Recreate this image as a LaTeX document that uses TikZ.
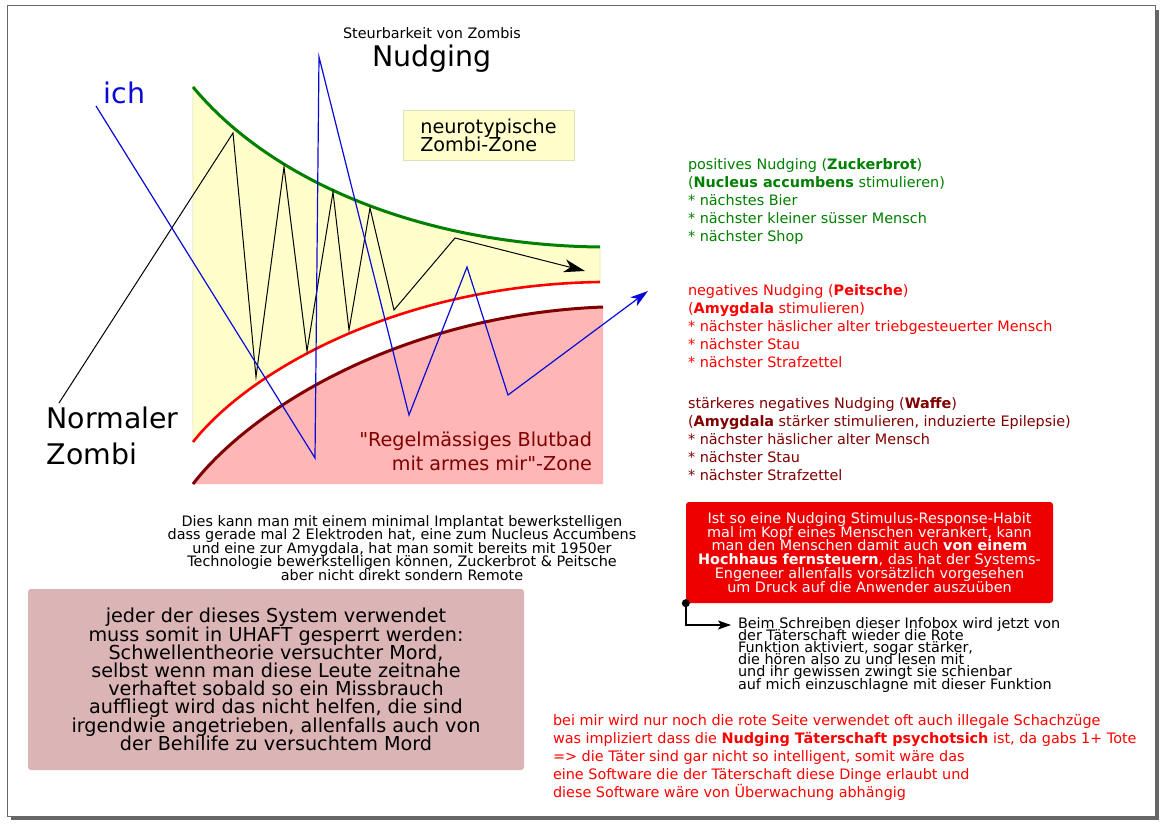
\documentclass[tikz,border=0pt]{standalone}
\usepackage{fontspec}
\setmainfont{DejaVu Sans}[Ligatures=TeXOff]
\usetikzlibrary{arrows.meta}
\newcommand{\fsz}[2]{\fontsize{#1}{#2}\selectfont\lineskiplimit=-100pt\lineskip=0pt}
\definecolor{zgreen}{RGB}{0,128,0}
\definecolor{zred}{RGB}{238,0,0}
\definecolor{zdark}{RGB}{128,0,0}
\definecolor{zyellow}{RGB}{255,255,204}
\definecolor{zyedge}{RGB}{225,225,185}
\definecolor{zpink}{RGB}{255,182,182}
\definecolor{zbox}{RGB}{219,181,181}
\definecolor{zblue}{RGB}{10,10,215}
\definecolor{zframe}{RGB}{102,102,102}
\begin{document}
\begin{tikzpicture}[x=1pt,y=-1pt,
  txt/.style={inner sep=0pt, outer sep=0pt},
  small/.style={txt, font=\fsz{14.4}{18}},
  mid/.style={txt, font=\fsz{19.2}{18.3}},
  big/.style={txt, font=\fsz{28.4}{36}},
  zigzag/.style={line width=1pt, line join=miter},
  curve/.style={line width=3pt},
  infobox/.style={rounded corners=3pt, inner sep=0pt, align=center}]
\useasboundingbox (0,0) rectangle (1163,824);
\fill[white] (0,0) rectangle (1163,824);
% frame with shadow
\fill[zframe] (11,816) rectangle (1159,820);
\fill[zframe] (1155,10) rectangle (1159,820);
\draw[zframe, line width=1pt] (7,6) rectangle (1155,816);

% zones
\fill[zyellow, draw=zyedge, line width=0.6pt] (193,87) .. controls (270,180) and (420,245) .. (600,247) -- (600,282) .. controls (400,285) and (250,370) .. (193,442) -- cycle;
\fill[zpink] (193,484) .. controls (250,410) and (400,315) .. (603,307) -- (603,484) -- cycle;
\draw[zgreen, curve] (193,87) .. controls (270,180) and (420,245) .. (600,247);
\draw[red, line width=2.6pt] (193,442) .. controls (250,370) and (400,285) .. (600,282);
\draw[zdark, curve] (193,484) .. controls (250,410) and (400,315) .. (603,307);

% zone labels
\node[mid, fill=zyellow, draw=zyedge, line width=0.8pt, align=left, anchor=north west,
  minimum width=171pt, minimum height=50pt] (neuro) at (403,110) {neurotypische\\Zombi-Zone};
\node[txt, font=\fsz{19.2}{24}, text=zdark, align=right, anchor=north east] (blutbad) at (592,432.4)
  {"Regelmässiges Blutbad\\mit armes mir"-Zone};

% black zigzag (normal zombie)
\coordinate (nz) at (59,403);
\coordinate (nzend) at (585,271);
\draw[zigzag, -{Stealth[length=21pt,width=13pt,inset=6pt]}] (nz) -- (233,133) -- (256,377) -- (284,167) -- (307,351) -- (333,192) -- (349,330) -- (370,208) -- (394,310) -- (455,238) -- (nzend);

% blue zigzag (ich)
\coordinate (ich0) at (96,106);
\coordinate (ichend) at (648,291);
\draw[zblue, line width=1.2pt, line join=miter, -{Stealth[length=18pt,width=11pt,inset=5pt]}] (ich0) -- (315,458) -- (319,57) -- (409,415) -- (467,267) -- (508,395) -- (ichend);

% titles
\node[txt, font=\fsz{14.4}{18}, anchor=base] (sub) at (432,39) {Steurbarkeit von Zombis};
\node[txt, font=\fsz{28.4}{34}, anchor=base] (title) at (432,66.7) {Nudging};
\node[txt, font=\fsz{28.4}{34}, text=zblue, anchor=base west] (ich) at (103.5,104) {ich};
\node[big, align=left, anchor=north west] (normal) at (46.6,406.5) {Normaler\\Zombi};

% legend
\node[small, text=zgreen, align=left, anchor=north west] (pos) at (688,158.1)
  {positives Nudging (\textbf{Zuckerbrot})\\(\textbf{Nucleus accumbens} stimulieren)\\* nächstes Bier\\* nächster kleiner süsser Mensch\\* nächster Shop};
\node[small, text=red, align=left, anchor=north west] (neg) at (688,284.8)
  {negatives Nudging (\textbf{Peitsche})\\(\textbf{Amygdala} stimulieren)\\* nächster häslicher alter triebgesteuerter Mensch\\* nächster Stau\\* nächster Strafzettel};
\node[small, text=zdark, align=left, anchor=north west] (neg2) at (688,397.1)
  {stärkeres negatives Nudging (\textbf{Waffe})\\(\textbf{Amygdala} stärker stimulieren, induzierte Epilepsie)\\* nächster häslicher alter Mensch\\* nächster Stau\\* nächster Strafzettel};

% centre explanation
\node[txt, font=\fsz{14.4}{13.5}, align=center, anchor=north] (impl) at (402,515.1)
  {Dies kann man mit einem minimal Implantat bewerkstelligen\\dass gerade mal 2 Elektroden hat, eine zum Nucleus Accumbens\\und eine zur Amygdala, hat man somit bereits mit 1950er\\Technologie bewerkstelligen können, Zuckerbrot \& Peitsche\\aber nicht direkt sondern Remote};

% pink box
\node[infobox, fill=zbox, font=\fsz{19.2}{18.2}, minimum width=496pt, minimum height=181pt] (uhaft) at (276,679.5)
  {jeder der dieses System verwendet\\muss somit in UHAFT gesperrt werden:\\Schwellentheorie versuchter Mord,\\selbst wenn man diese Leute zeitnahe\\verhaftet sobald so ein Missbrauch\\auffliegt wird das nicht helfen, die sind\\irgendwie angetrieben, allenfalls auch von\\der Behilife zu versuchtem Mord};

% red box
\node[infobox, fill=zred, text=white, font=\fsz{14.4}{13.8}, minimum width=367pt, minimum height=101pt] (habit) at (869.5,552.5)
  {Ist so eine Nudging Stimulus-Response-Habit\\mal im Kopf eines Menschen verankert, kann\\man den Menschen damit auch \textbf{von einem}\\\textbf{Hochhaus fernsteuern}, das hat der Systems-\\Engeneer allenfalls vorsätzlich vorgesehen\\um Druck auf die Anwender auszuüben};

\node[txt, font=\fsz{14.4}{12.2}, align=left, anchor=north west] (schreiben) at (738,617.1)
  {Beim Schreiben dieser Infobox wird jetzt von\\der Täterschaft wieder die Rote\\Funktion aktiviert, sogar stärker,\\die hören also zu und lesen mit\\und ihr gewissen zwingt sie schienbar\\auf mich einzuschlagne mit dieser Funktion};
\fill (habit.south west) circle (4pt);
\draw[line width=1.6pt, -{Stealth[length=13pt,width=9pt,inset=3pt]}] (habit.south west) |- ([xshift=-7pt]schreiben.west |- 0,625);

% bottom red text
\node[small, text=red, align=left, anchor=north west] (bottom) at (553,714.1)
  {bei mir wird nur noch die rote Seite verwendet oft auch illegale Schachzüge\\was impliziert dass die \textbf{Nudging Täterschaft psychotsich} ist, da gabs 1+ Tote\\=> die Täter sind gar nicht so intelligent, somit wäre das\\eine Software die der Täterschaft diese Dinge erlaubt und\\diese Software wäre von Überwachung abhängig};
\end{tikzpicture}
\end{document}
